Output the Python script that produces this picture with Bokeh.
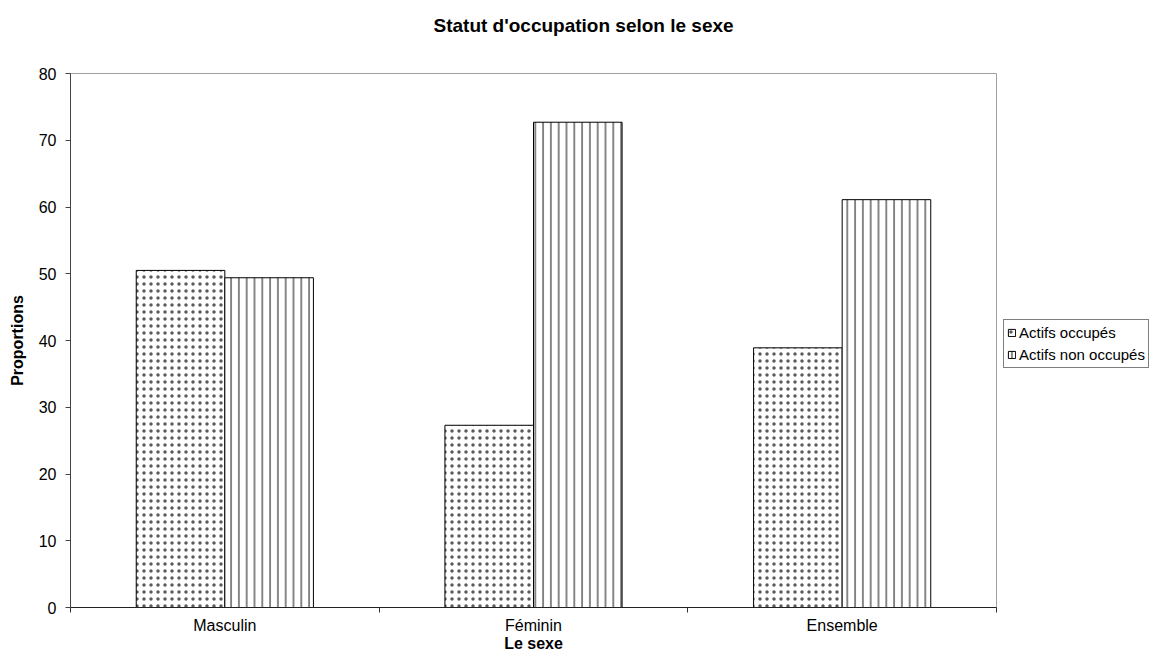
import numpy as np
from bokeh.plotting import figure
from bokeh.layouts import row
from bokeh.models import (ColumnDataSource, FixedTicker, Legend, LegendItem, Range1d, Title)
from bokeh.transform import dodge
from bokeh.embed import file_html
from bokeh.resources import INLINE

# ---- data ----
categories = ["Masculin", "Féminin", "Ensemble"]
actifs_occupes = [50.5, 27.3, 38.9]
actifs_non_occupes = [49.4, 72.7, 61.1]
series_names = ["Actifs occupés", "Actifs non occupés"]
y_ticks = [0, 10, 20, 30, 40, 50, 60, 70, 80]
title_text = "Statut d'occupation selon le sexe"
x_title = "Le sexe"
y_title = "Proportions"

FONT = "Liberation Sans"
BAR_W = 0.287
STYLE_OCC = dict(fill_color="white", line_color="black", line_width=1,
                 hatch_pattern="dot", hatch_scale=7, hatch_color="#5a5a5a",
                 hatch_weight=0.3)
STYLE_NON = dict(fill_color="white", line_color="black", line_width=1,
                 hatch_pattern="vertical_line", hatch_scale=7.8, hatch_color="#6a6a6a",
                 hatch_weight=1.6)

centers = [i + 0.5 for i in range(len(categories))]
src = ColumnDataSource(dict(x=centers, occ=actifs_occupes, non=actifs_non_occupes))

p = figure(width=1000, height=654, output_backend="svg", toolbar_location=None,
           x_range=Range1d(0, len(categories)), y_range=Range1d(y_ticks[0], y_ticks[-1]),
           min_border_left=70, min_border_right=4, min_border_top=73,
           min_border_bottom=45)
p.background_fill_color = "white"
p.border_fill_color = "white"
p.outline_line_color = "#a0a0a0"
p.xgrid.visible = False
p.ygrid.visible = False
p.title.text = ""

main_title = Title(text=title_text, align="left", offset=363, standoff=0,
                   vertical_align="middle", text_font=FONT, text_font_size="19px",
                   text_font_style="bold", text_color="black")
spacer = Title(text=" ", standoff=14, text_font=FONT, text_font_size="19px")
p.above = [spacer, main_title]

r1 = p.vbar(x=dodge("x", -BAR_W / 2, range=p.x_range), top="occ", width=BAR_W,
            source=src, **STYLE_OCC)
r2 = p.vbar(x=dodge("x", BAR_W / 2, range=p.x_range), top="non", width=BAR_W,
            source=src, **STYLE_NON)

# x axis: labels at centres, ticks at category boundaries
xa = p.xaxis[0]
xa.ticker = FixedTicker(ticks=centers, minor_ticks=list(range(len(categories) + 1)))
xa.major_label_overrides = {c: lab for c, lab in zip(centers, categories)}
xa.major_tick_line_color = None
xa.major_tick_out = 5
xa.major_tick_in = 0
xa.minor_tick_out = 5
xa.minor_tick_in = 0
xa.minor_tick_line_color = "#333333"
xa.axis_line_color = "#222222"
xa.major_label_standoff = 4
xa.axis_label = x_title
xa.axis_label_standoff = -2

ya = p.yaxis[0]
ya.ticker = FixedTicker(ticks=y_ticks, minor_ticks=[])
ya.major_tick_out = 5
ya.major_tick_in = 0
ya.major_tick_line_color = "#444444"
ya.axis_line_color = "#444444"
ya.major_label_standoff = 9
ya.axis_label = y_title
ya.axis_label_standoff = 10

for ax in (xa, ya):
    ax.major_label_text_font = FONT
    ax.major_label_text_font_size = "16px"
    ax.major_label_text_color = "black"
    ax.axis_label_text_font = FONT
    ax.axis_label_text_font_size = "16px"
    ax.axis_label_text_font_style = "bold"
    ax.axis_label_text_color = "black"

# legend area to the right of the plot (hidden copies of the two series)
pl = figure(width=149, height=654, output_backend="svg", toolbar_location=None,
            x_axis_type=None, y_axis_type=None, x_range=Range1d(0, len(categories)),
            y_range=Range1d(y_ticks[0], y_ticks[-1]), min_border=0)
pl.outline_line_color = None
pl.xgrid.visible = False
pl.ygrid.visible = False
pl.background_fill_color = "white"
pl.border_fill_color = "white"
l1 = pl.vbar(x="x", top="occ", width=BAR_W, source=src, visible=False, **STYLE_OCC)
l2 = pl.vbar(x="x", top="non", width=BAR_W, source=src, visible=False, **STYLE_NON)

legend = Legend(items=[LegendItem(label=series_names[0], renderers=[l1]),
                       LegendItem(label=series_names[1], renderers=[l2])],
                location=(3, 239), glyph_width=9, glyph_height=9,
                label_text_font=FONT, label_text_font_size="15px",
                label_text_color="black",
                label_height=19, spacing=3, padding=3, margin=0,
                label_standoff=3, border_line_color="black", border_line_width=1,
                background_fill_color="white", background_fill_alpha=1,
                inactive_fill_alpha=0)
pl.add_layout(legend)

layout = row(p, pl, spacing=0)
open("out.html", "w").write(file_html(layout, INLINE))
